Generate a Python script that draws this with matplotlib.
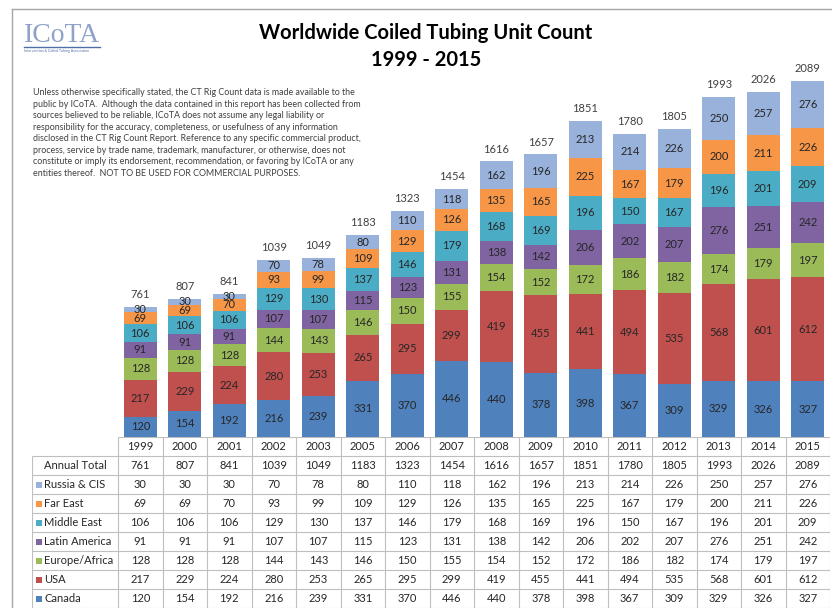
import numpy as np
import matplotlib.pyplot as plt
from matplotlib.lines import Line2D

plt.rcParams['font.family'] = ['Lato', 'DejaVu Sans']

years = ['1999', '2000', '2001', '2002', '2003', '2005', '2006', '2007',
         '2008', '2009', '2010', '2011', '2012', '2013', '2014', '2015']
canada = [120, 154, 192, 216, 239, 331, 370, 446, 440, 378, 398, 367, 309, 329, 326, 327]
usa = [217, 229, 224, 280, 253, 265, 295, 299, 419, 455, 441, 494, 535, 568, 601, 612]
europe_africa = [128, 128, 128, 144, 143, 146, 150, 155, 154, 152, 172, 186, 182, 174, 179, 197]
latin_america = [91, 91, 91, 107, 107, 115, 123, 131, 138, 142, 206, 202, 207, 276, 251, 242]
middle_east = [106, 106, 106, 129, 130, 137, 146, 179, 168, 169, 196, 150, 167, 196, 201, 209]
far_east = [69, 69, 70, 93, 99, 109, 129, 126, 135, 165, 225, 167, 179, 200, 211, 226]
russia_cis = [30, 30, 30, 70, 78, 80, 110, 118, 162, 196, 213, 214, 226, 250, 257, 276]
annual_total = [761, 807, 841, 1039, 1049, 1183, 1323, 1454,
                1616, 1657, 1851, 1780, 1805, 1993, 2026, 2089]

# stacking order bottom -> top
series = [
    ('Canada', canada, '#4F81BD'),
    ('USA', usa, '#C0504D'),
    ('Europe/Africa', europe_africa, '#9BBB59'),
    ('Latin America', latin_america, '#8064A2'),
    ('Middle East', middle_east, '#4BACC6'),
    ('Far East', far_east, '#F79646'),
    ('Russia & CIS', russia_cis, '#98B2DB'),
]

disclaimer = (
    "Unless otherwise specifically stated, the CT Rig Count data is made available to the\n"
    "public by ICoTA.  Although the data contained in this report has been collected from\n"
    "sources believed to be reliable, ICoTA does not assume any legal liability or\n"
    "responsibility for the accuracy, completeness, or usefulness of any information\n"
    "disclosed in the CT Rig Count Report. Reference to any specific commercial product,\n"
    "process, service by trade name, trademark, manufacturer, or otherwise, does not\n"
    "constitute or imply its endorsement, recommendation, or favoring by ICoTA or any\n"
    "entities thereof.  NOT TO BE USED FOR COMMERCIAL PURPOSES."
)

W, H = 832, 608
fig = plt.figure(figsize=(W / 100, H / 100), dpi=100)


def px_axes(x0, y0, x1, y1):
    # axes from a pixel box measured from the top-left corner
    return fig.add_axes([x0 / W, 1 - y1 / H, (x1 - x0) / W, (y1 - y0) / H])


def fx(x):
    return x / W


def fy(y):
    return 1 - y / H


txt_col = '#262626'
grid_col = '#BFBFBF'

# --- bars ---
ax = px_axes(118, 60, 830, 437)
x = np.arange(len(years))
bottom = np.zeros(len(years))
for name, vals, col in series:
    vals = np.array(vals)
    ax.bar(x, vals, bottom=bottom, width=0.74, color=col, linewidth=0)
    for xi, b, v in zip(x, bottom, vals):
        ax.text(xi, b + v / 2, str(v), ha='center', va='center',
                fontsize=8, color=txt_col)
    bottom += vals
for xi, t in zip(x, annual_total):
    ax.annotate(str(t), (xi, t), xytext=(0, 5), textcoords='offset points',
                ha='center', va='bottom', fontsize=8, color='#404040')
ax.set_xlim(-0.5, len(years) - 0.5)
ax.set_ylim(0, 377 / 0.1705)
ax.axis('off')

# --- data table ---
col_w = 44.5
lab_w = (118 - 32) / col_w
tx = px_axes(32, 437, 830, 608)
xl = -0.5 - lab_w
tx.set_xlim(xl, len(years) - 0.5)
tx.set_ylim(8.5, -0.5)
tx.axis('off')

rows = [('Annual Total', annual_total, None)] + [s for s in series[::-1]]

tx.hlines(-0.5, -0.5, len(years) - 0.5, color=grid_col, lw=0.8)
for k in range(9):
    tx.hlines(k + 0.5, xl, len(years) - 0.5, color=grid_col, lw=0.8)
for k in range(len(years) + 1):
    tx.vlines(k - 0.5, -0.5, 8.5, color=grid_col, lw=0.8)
tx.vlines(xl, 0.5, 8.5, color=grid_col, lw=0.8)

for xi, yr in zip(x, years):
    tx.text(xi, 0, yr, ha='center', va='center', fontsize=8, color=txt_col)
for r, (name, vals, col) in enumerate(rows, start=1):
    if col is None:
        tx.text(xl + lab_w / 2, r, name, ha='center', va='center',
                fontsize=8, color=txt_col)
    else:
        tx.scatter([xl + 0.16], [r], marker='s', s=16, color=col, linewidths=0)
        tx.text(xl + 0.27, r, name, ha='left', va='center',
                fontsize=8, color=txt_col)
    for xi, v in zip(x, vals):
        tx.text(xi, r, str(v), ha='center', va='center', fontsize=8, color=txt_col)

# --- titles, logo, notes ---
fig.text(fx(426), fy(33), 'Worldwide Coiled Tubing Unit Count', ha='center',
         va='center', fontsize=14.5, fontweight='bold', color='black')
fig.text(fx(426), fy(60), '1999 - 2015', ha='center', va='center',
         fontsize=14.5, fontweight='bold', color='black')

fig.text(fx(24), fy(35), 'ICoTA', ha='left', va='center', fontsize=20,
         family='Liberation Serif', color='#8FA3C8')
fig.add_artist(Line2D([fx(24), fx(100)], [fy(47), fy(47)], color='#4F6FA8', lw=1))
fig.text(fx(24), fy(51), 'Intervention & Coiled Tubing Association', ha='left',
         va='center', fontsize=2.6, color='#4F6FA8')

fig.text(fx(33), fy(88), disclaimer, ha='left', va='top', fontsize=6.4,
         color='#404040', linespacing=1.36)

# frame
fig.add_artist(Line2D([fx(12), fx(12)], [fy(9), 0], color='#A6A6A6', lw=1))
fig.add_artist(Line2D([fx(12), 1], [fy(9), fy(9)], color='#A6A6A6', lw=1))

fig.savefig('out.png', dpi=100, facecolor='white')
